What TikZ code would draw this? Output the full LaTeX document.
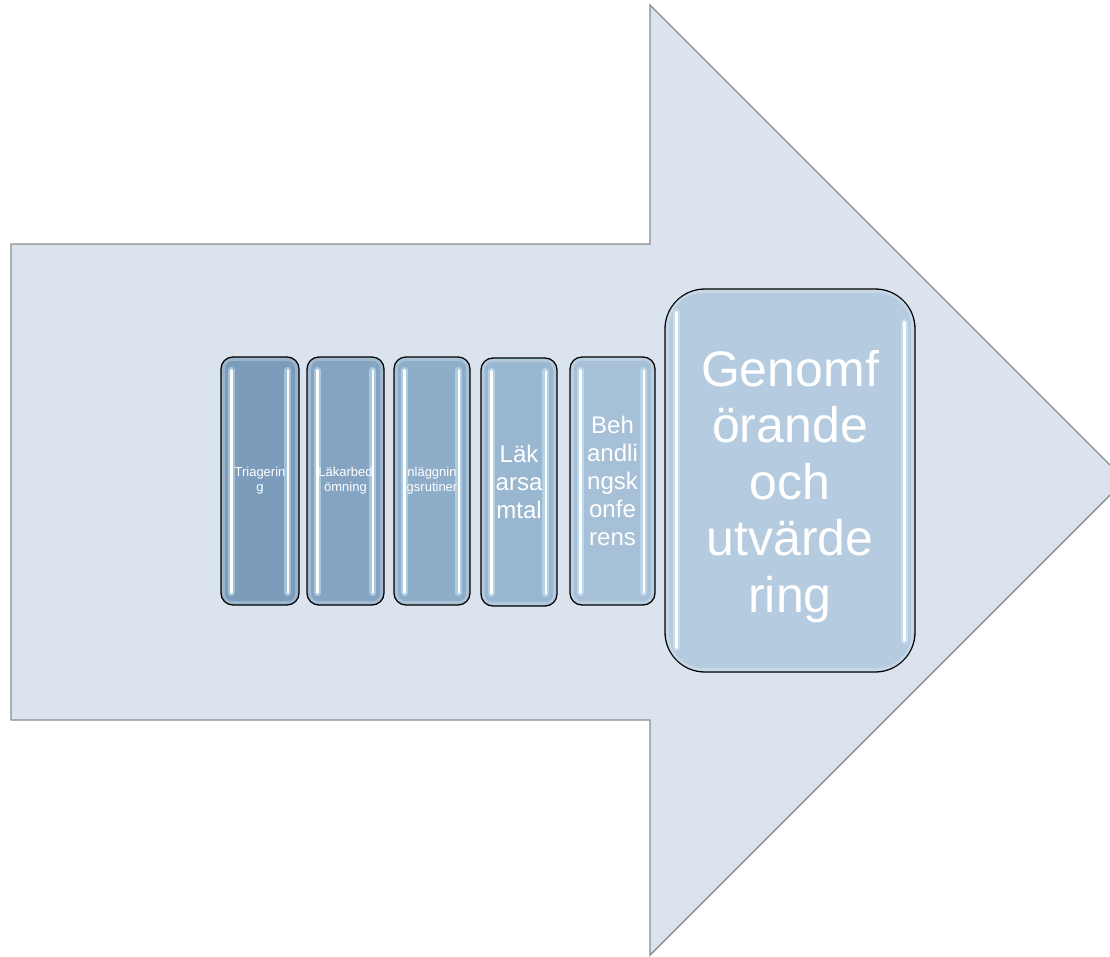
\documentclass[tikz,border=0pt]{standalone}
\usepackage{fontspec}
\setmainfont{Liberation Sans}
\usetikzlibrary{calc}
\definecolor{arrowfill}{HTML}{DAE3EE}
\definecolor{arrowline}{HTML}{8A8C8F}
\definecolor{cA}{HTML}{7B9CBA}
\definecolor{cB}{HTML}{84A4C2}
\definecolor{cC}{HTML}{8EADC9}
\definecolor{cD}{HTML}{99B7D0}
\definecolor{cE}{HTML}{A6C0D7}
\definecolor{cF}{HTML}{B5CBDF}
\definecolor{glow}{HTML}{D8F2FF}
\tikzset{
  stage/.style={draw=black, line width=1.3pt, rounded corners=12pt,
    text=white, align=center, inner sep=0pt},
  bigstage/.style={stage, rounded corners=40pt},
  small/.style={font={\fontsize{13}{15}\selectfont}},
  medium/.style={font={\fontsize{24}{28}\selectfont}},
  large/.style={font={\fontsize{50}{56.5}\selectfont}},
  shine/.style={line cap=round, line width=2.3pt, white},
  halo/.style={line cap=round, line width=7pt, glow, opacity=0.45},
  rim/.style={line width=3pt, white, opacity=0.25},
}
\begin{document}
\begin{tikzpicture}[x=1pt,y=-1pt]
\useasboundingbox (0,0) rectangle (1110,956);
\clip (0,0) rectangle (1110,956);

% large block arrow behind the stages
\draw[fill=arrowfill, draw=arrowline, line width=1.4pt, line join=miter]
  (11,244) -- (650,244) -- (650,5) -- (1125,480) -- (650,955) -- (650,720) -- (11,720) -- cycle;

% the six stages
\node[stage, small, fill=cA, minimum width=78pt, minimum height=248pt] (b1) at (260,481)
  {Triagerin\\g};
\node[stage, small, fill=cB, minimum width=77pt, minimum height=248pt] (b2) at (345.5,481)
  {Läkarbed\\ömning};
\node[stage, small, fill=cC, minimum width=76pt, minimum height=248pt] (b3) at (432,481)
  {nläggnin\\gsrutiner};
\node[stage, medium, fill=cD, minimum width=76pt, minimum height=248pt] (b4) at (519,482)
  {Läk\\arsa\\mtal};
\node[stage, medium, fill=cE, minimum width=85pt, minimum height=248pt] (b5) at (612.5,481)
  {Beh\\andli\\ngsk\\onfe\\rens};
\node[bigstage, fill=cF, minimum width=250pt, minimum height=383pt] (b6) at (790,480.5) {};
\node[large, text=white, align=center, inner sep=0pt] (t6) at ($(b6.center)+(0,6)$)
  {Genomf\\örande\\och\\utvärde\\ring};

% glossy highlights on the small stages
\foreach \b in {b1,b2,b3,b4,b5}{
  \draw[rim, rounded corners=9pt] ($(\b.north west)+(3,3)$) rectangle ($(\b.south east)+(-3,-3)$);
  \draw[halo] ($(\b.north west)+(11,14)$) -- ($(\b.south west)+(11,-13)$);
  \draw[halo] ($(\b.north east)+(-12,14)$) -- ($(\b.south east)+(-12,-13)$);
  \draw[shine] ($(\b.north west)+(11,14)$) -- ($(\b.south west)+(11,-13)$);
  \draw[shine] ($(\b.north east)+(-12,14)$) -- ($(\b.south east)+(-12,-13)$);
}
% glossy highlights on the large stage
\draw[rim, rounded corners=36pt] ($(b6.north west)+(3,3)$) rectangle ($(b6.south east)+(-3,-3)$);
\draw[halo] ($(b6.north west)+(12,24)$) -- ($(b6.south west)+(12,-25)$);
\draw[halo] ($(b6.north east)+(-11,34)$) -- ($(b6.south east)+(-11,-32)$);
\draw[shine, line width=2.6pt] ($(b6.north west)+(12,24)$) -- ($(b6.south west)+(12,-25)$);
\draw[shine, line width=2.6pt] ($(b6.north east)+(-11,34)$) -- ($(b6.south east)+(-11,-32)$);
\end{tikzpicture}
\end{document}
